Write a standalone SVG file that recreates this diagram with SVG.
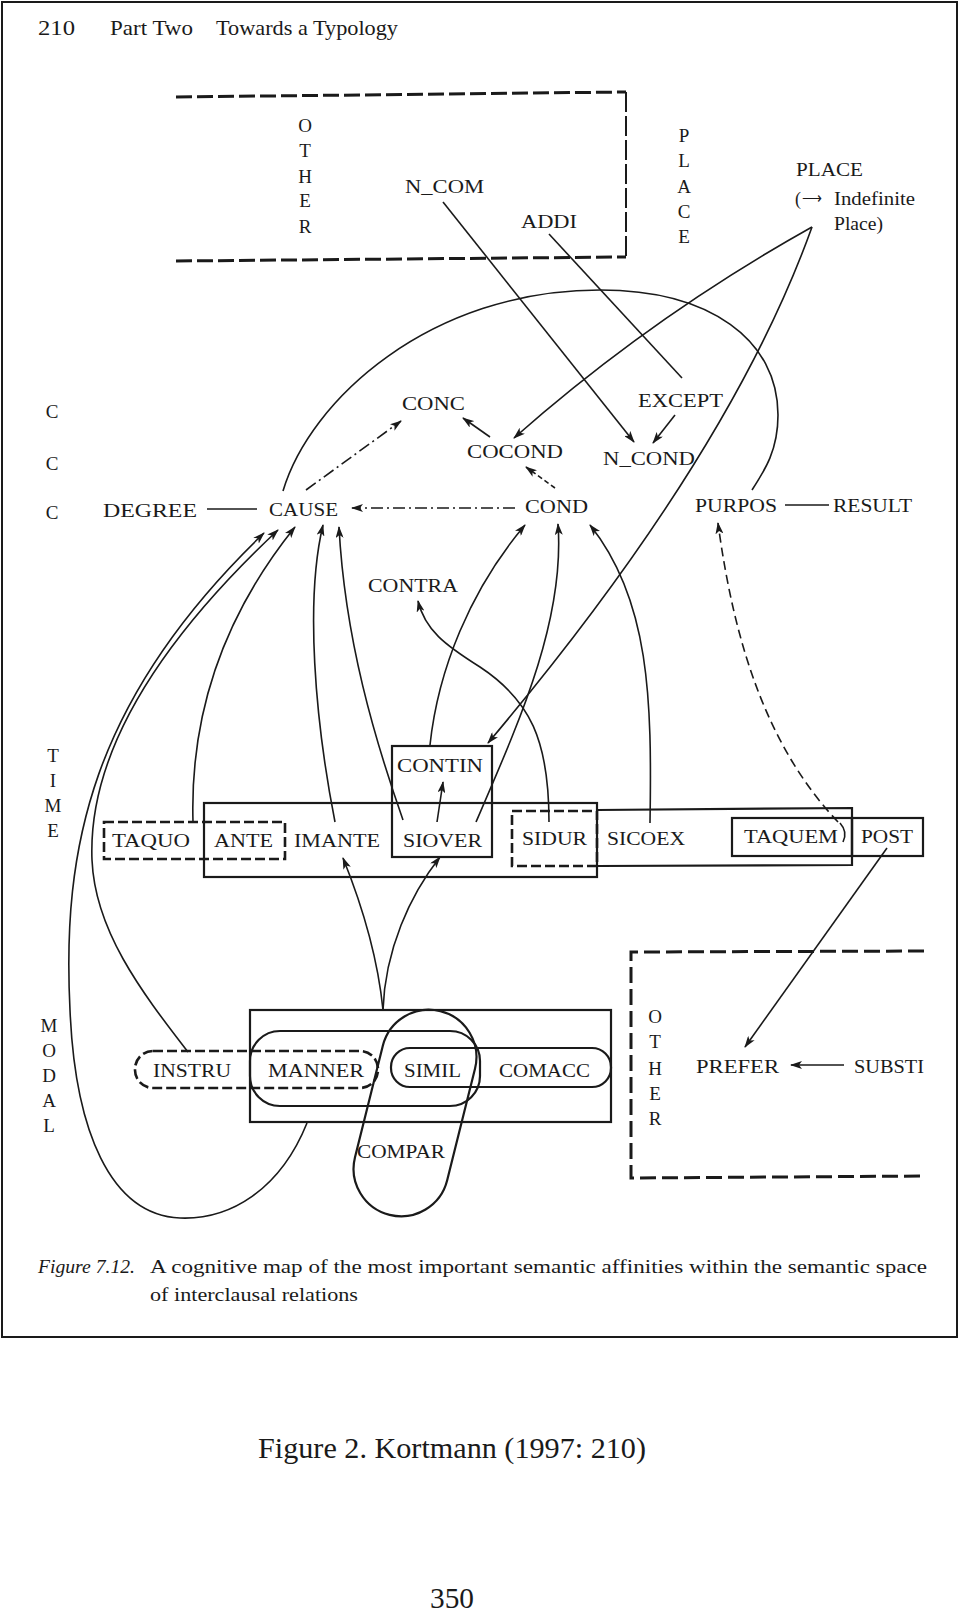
<svg xmlns="http://www.w3.org/2000/svg" width="960" height="1611" viewBox="0 0 960 1611">
<style>
text{font-family:"Liberation Serif","Times New Roman",serif;fill:#1a1a1a}
.lb{font-size:18px}
.vl{font-size:19px;text-anchor:middle}
.c{fill:none;stroke:#1a1a1a;stroke-width:1.6}
.a{marker-end:url(#ah)}
.box{fill:none;stroke:#1a1a1a;stroke-width:2.2}
.dbox{fill:none;stroke:#1a1a1a;stroke-width:2.6;stroke-dasharray:10 4}
.dd{stroke-dasharray:12 4 2 4}
.ds{stroke-dasharray:5 3}
.dl{stroke-dasharray:9 5}
</style>
<defs>
<marker id="ah" viewBox="0 0 12 8" refX="11" refY="4" markerWidth="12" markerHeight="8" markerUnits="userSpaceOnUse" orient="auto">
<path d="M0,0 L12,4 L0,8 L3,4 z" fill="#1a1a1a"/>
</marker>
</defs>
<rect x="0" y="0" width="960" height="1611" fill="#ffffff"/>
<g id="frame">
<rect x="2" y="2" width="955" height="1335" fill="none" stroke="#1a1a1a" stroke-width="2"/>
</g>
<g id="header">
<text x="38" y="35" font-size="21" textLength="37" lengthAdjust="spacingAndGlyphs">210</text>
<text x="110" y="35" font-size="21" textLength="83" lengthAdjust="spacingAndGlyphs">Part Two</text>
<text x="216" y="35" font-size="21" textLength="182" lengthAdjust="spacingAndGlyphs">Towards a Typology</text>
</g>

<g id="regions">
<path d="M176,97 L626,92" fill="none" stroke="#1a1a1a" stroke-width="3" stroke-dasharray="16 5"/>
<path d="M176,261 L626,257" fill="none" stroke="#1a1a1a" stroke-width="3" stroke-dasharray="16 5"/>
<path d="M626,92 L626,257" fill="none" stroke="#1a1a1a" stroke-width="2" stroke-dasharray="20 4"/>
<path d="M924,951 L631,952 L631,1178 L924,1176" fill="none" stroke="#1a1a1a" stroke-width="3" stroke-dasharray="16 6"/>
<g id="label-other-top">
<text class="vl" x="305" y="132">O</text><text class="vl" x="305" y="157">T</text><text class="vl" x="305" y="183">H</text><text class="vl" x="305" y="207">E</text><text class="vl" x="305" y="233">R</text>
</g>
<g id="label-place">
<text class="vl" x="684" y="142">P</text><text class="vl" x="684" y="167">L</text><text class="vl" x="684" y="193">A</text><text class="vl" x="684" y="218">C</text><text class="vl" x="684" y="243">E</text>
</g>
<g id="label-ccc">
<text class="vl" x="52" y="418">C</text><text class="vl" x="52" y="470">C</text><text class="vl" x="52" y="519">C</text>
</g>
<g id="label-time">
<text class="vl" x="53" y="762">T</text><text class="vl" x="53" y="787">I</text><text class="vl" x="53" y="812">M</text><text class="vl" x="53" y="837">E</text>
</g>
<g id="label-modal">
<text class="vl" x="49" y="1032">M</text><text class="vl" x="49" y="1057">O</text><text class="vl" x="49" y="1082">D</text><text class="vl" x="49" y="1107">A</text><text class="vl" x="49" y="1132">L</text>
</g>
<g id="label-other-bottom">
<text class="vl" x="655" y="1023">O</text><text class="vl" x="655" y="1048">T</text><text class="vl" x="655" y="1075">H</text><text class="vl" x="655" y="1100">E</text><text class="vl" x="655" y="1125">R</text>
</g>
</g>

<g id="connectors">
<path class="c a" d="M443,202 L634,442"/>
<path class="c" d="M549,234 L682,378"/>
<path class="c a" d="M812,227 Q651,317 514,438"/>
<path class="c a" d="M812,227 Q730,456 488,743"/>
<path class="c a" d="M675,415 L653,443"/>
<path class="c a" d="M490,437 L463,418"/>
<path class="c a dd" d="M306,490 L401,421"/>
<path class="c a ds" d="M555,488 L526,467"/>
<path class="c a dd" d="M515,508 L352,508"/>
<path class="c" d="M207,509 L257,509"/>
<path class="c" d="M785,505 L829,505"/>
<path class="c" d="M283,491 C310,400 430,290 600,290 C710,290 778,340 778,415 C778,450 765,470 752,490"/>
<path class="c a" d="M307,1123 C280,1190 230,1220 180,1218 C110,1215 75,1130 70,1010 C62,850 90,700 264,533"/>
<path class="c a" d="M188,1052 C140,990 95,930 92,860 C88,760 150,650 278,530"/>
<path class="c a" d="M193,822 C190,720 220,620 295,527"/>
<path class="c a" d="M335,822 C315,720 305,600 323,525"/>
<path class="c a" d="M403,820 C375,740 345,640 339,527"/>
<path class="c a" d="M430,745 C438,670 470,590 525,525"/>
<path class="c a" d="M476,822 C520,720 565,620 558,524"/>
<path class="c a" d="M650,823 C652,700 650,600 590,525"/>
<path class="c a" d="M549,822 C549,740 530,700 480,667 C445,645 425,630 418,601"/>
<path class="c a" d="M437,822 L443,782"/>
<path class="c a dl" d="M838,822 C770,750 735,650 718,523"/>
<path class="c" d="M840,823 Q848,832 843,842"/>
<path class="c a" d="M383,1010 C378,960 362,905 343,858"/>
<path class="c a" d="M383,1010 C385,950 410,895 440,857"/>
<path class="c a" d="M887,848 L745,1047"/>
<path class="c a" d="M844,1065 L791,1065"/>
</g>

<g id="node-ncom"><text class="lb" x="405" y="193" textLength="79" lengthAdjust="spacingAndGlyphs">N_COM</text></g>
<g id="node-addi"><text class="lb" x="521" y="228" textLength="56" lengthAdjust="spacingAndGlyphs">ADDI</text></g>
<g id="node-place">
<text class="lb" x="796" y="176" textLength="67" lengthAdjust="spacingAndGlyphs">PLACE</text>
<text class="lb" x="795" y="205">(</text>
<text x="802" y="203" font-size="16" font-family="DejaVu Sans, sans-serif" textLength="20" lengthAdjust="spacingAndGlyphs">⟶</text>
<text class="lb" x="834" y="205" textLength="81" lengthAdjust="spacingAndGlyphs">Indefinite</text>
<text class="lb" x="834" y="230" textLength="49" lengthAdjust="spacingAndGlyphs">Place)</text>
</g>
<g id="node-conc"><text class="lb" x="402" y="410" textLength="63" lengthAdjust="spacingAndGlyphs">CONC</text></g>
<g id="node-except"><text class="lb" x="638" y="407" textLength="85" lengthAdjust="spacingAndGlyphs">EXCEPT</text></g>
<g id="node-cocond"><text class="lb" x="467" y="458" textLength="96" lengthAdjust="spacingAndGlyphs">COCOND</text></g>
<g id="node-ncond"><text class="lb" x="603" y="465" textLength="92" lengthAdjust="spacingAndGlyphs">N_COND</text></g>
<g id="node-degree"><text class="lb" x="103" y="517" textLength="94" lengthAdjust="spacingAndGlyphs">DEGREE</text></g>
<g id="node-cause"><text class="lb" x="269" y="516" textLength="69" lengthAdjust="spacingAndGlyphs">CAUSE</text></g>
<g id="node-cond"><text class="lb" x="525" y="513" textLength="63" lengthAdjust="spacingAndGlyphs">COND</text></g>
<g id="node-purpos"><text class="lb" x="695" y="512" textLength="82" lengthAdjust="spacingAndGlyphs">PURPOS</text></g>
<g id="node-result"><text class="lb" x="833" y="512" textLength="79" lengthAdjust="spacingAndGlyphs">RESULT</text></g>
<g id="node-contra"><text class="lb" x="368" y="592" textLength="90" lengthAdjust="spacingAndGlyphs">CONTRA</text></g>

<g id="group-time">
<rect class="box" x="204" y="803" width="393" height="74"/>
<rect class="dbox" x="104" y="822" width="181" height="37"/>
<rect class="dbox" x="512" y="811" width="85" height="55"/>
<path class="box" d="M597,810 L852,808 L852,865 L597,866"/>
</g>
<g id="node-contin">
<rect class="box" x="392" y="746" width="100" height="111"/>
<text class="lb" x="397" y="772" textLength="86" lengthAdjust="spacingAndGlyphs">CONTIN</text>
</g>
<g id="node-taquo"><text class="lb" x="112" y="847" textLength="78" lengthAdjust="spacingAndGlyphs">TAQUO</text></g>
<g id="node-ante"><text class="lb" x="214" y="847" textLength="59" lengthAdjust="spacingAndGlyphs">ANTE</text></g>
<g id="node-imante"><text class="lb" x="294" y="847" textLength="86" lengthAdjust="spacingAndGlyphs">IMANTE</text></g>
<g id="node-siover"><text class="lb" x="403" y="847" textLength="79" lengthAdjust="spacingAndGlyphs">SIOVER</text></g>
<g id="node-sidur"><text class="lb" x="522" y="845" textLength="65" lengthAdjust="spacingAndGlyphs">SIDUR</text></g>
<g id="node-sicoex"><text class="lb" x="607" y="845" textLength="78" lengthAdjust="spacingAndGlyphs">SICOEX</text></g>
<g id="node-taquem">
<rect class="box" x="732" y="818" width="120" height="38"/>
<text class="lb" x="744" y="843" textLength="94" lengthAdjust="spacingAndGlyphs">TAQUEM</text>
</g>
<g id="node-post">
<rect class="box" x="852" y="818" width="71" height="38"/>
<text class="lb" x="861" y="843" textLength="52" lengthAdjust="spacingAndGlyphs">POST</text>
</g>

<g id="group-modal">
<rect class="box" x="250" y="1010" width="361" height="112"/>
<rect class="dbox" x="135" y="1051" width="243" height="37" rx="18"/>
<rect class="box" x="250" y="1031" width="230" height="75" rx="30"/>
<rect class="box" x="391" y="1048" width="220" height="39" rx="19"/>
<rect class="box" x="367.5" y="1008" width="95" height="210" rx="47.5" transform="rotate(14 415 1113)"/>
</g>
<g id="node-instru"><text class="lb" x="153" y="1077" textLength="78" lengthAdjust="spacingAndGlyphs">INSTRU</text></g>
<g id="node-manner"><text class="lb" x="268" y="1077" textLength="96" lengthAdjust="spacingAndGlyphs">MANNER</text></g>
<g id="node-simil"><text class="lb" x="404" y="1077" textLength="57" lengthAdjust="spacingAndGlyphs">SIMIL</text></g>
<g id="node-comacc"><text class="lb" x="499" y="1077" textLength="91" lengthAdjust="spacingAndGlyphs">COMACC</text></g>
<g id="node-compar"><text class="lb" x="357" y="1158" textLength="88" lengthAdjust="spacingAndGlyphs">COMPAR</text></g>
<g id="node-prefer"><text class="lb" x="696" y="1073" textLength="83" lengthAdjust="spacingAndGlyphs">PREFER</text></g>
<g id="node-substi"><text class="lb" x="854" y="1073" textLength="70" lengthAdjust="spacingAndGlyphs">SUBSTI</text></g>

<g id="caption">
<text x="38" y="1273" font-size="19" font-style="italic" textLength="97" lengthAdjust="spacingAndGlyphs">Figure 7.12.</text>
<text x="150" y="1273" font-size="19" textLength="777" lengthAdjust="spacingAndGlyphs">A cognitive map of the most important semantic affinities within the semantic space</text>
<text x="150" y="1301" font-size="19" textLength="208" lengthAdjust="spacingAndGlyphs">of interclausal relations</text>
</g>
<g id="footer">
<text x="258" y="1458" font-size="30" textLength="388" lengthAdjust="spacingAndGlyphs">Figure 2. Kortmann (1997: 210)</text>
<text x="430" y="1608" font-size="30" textLength="44" lengthAdjust="spacingAndGlyphs">350</text>
</g>
</svg>
